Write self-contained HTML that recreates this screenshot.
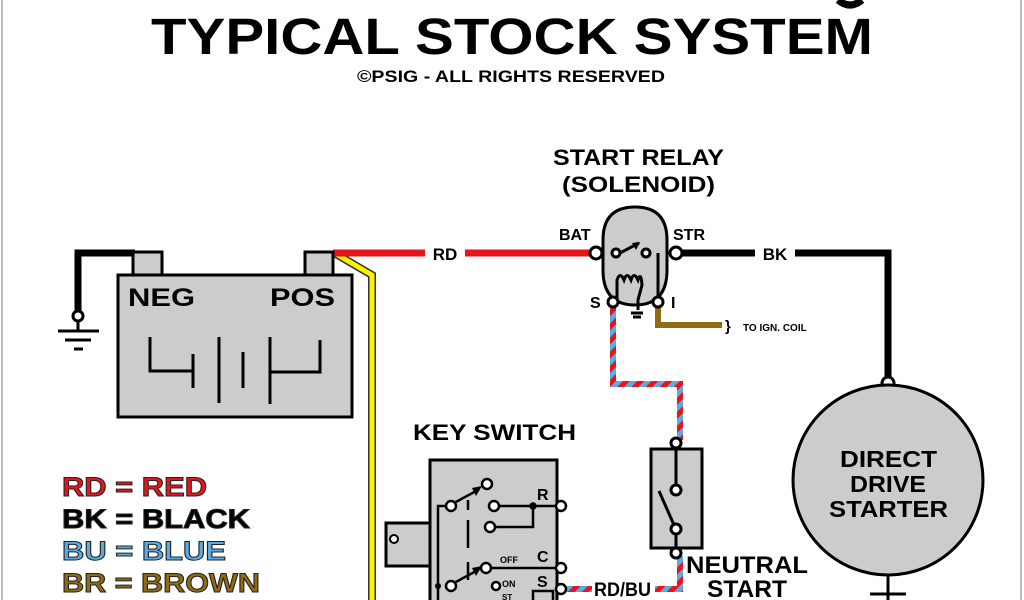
<!DOCTYPE html>
<html><head><meta charset="utf-8"><style>
html,body{margin:0;padding:0;background:#fff;width:1024px;height:600px;overflow:hidden}
svg{display:block}
text{font-family:"Liberation Sans",sans-serif;font-weight:bold}
</style></head><body>
<svg width="1024" height="600" viewBox="0 0 1024 600" xmlns="http://www.w3.org/2000/svg">
<defs>
<pattern id="rb" patternUnits="userSpaceOnUse" width="10" height="10" patternTransform="rotate(45)">
<rect width="5" height="10" fill="#e8141c"/><rect x="5" width="5" height="10" fill="#5aaae6"/>
</pattern>
</defs>
<line x1="2" y1="0" x2="2" y2="600" stroke="#bbb" stroke-width="2"/>
<line x1="1021" y1="0" x2="1021" y2="600" stroke="#bbb" stroke-width="2"/>
<path d="M838 0 Q850 10 862 0" stroke="#000" stroke-width="7" fill="none"/>
<text x="512" y="54" font-size="51" text-anchor="middle" textLength="722" lengthAdjust="spacingAndGlyphs">TYPICAL STOCK SYSTEM</text>
<text x="357" y="82" font-size="17" textLength="308" lengthAdjust="spacingAndGlyphs">©PSIG - ALL RIGHTS RESERVED</text>
<text x="553" y="165" font-size="22" textLength="171" lengthAdjust="spacingAndGlyphs">START RELAY</text>
<text x="562" y="192" font-size="22" textLength="153" lengthAdjust="spacingAndGlyphs">(SOLENOID)</text>

<!-- ground wire -->
<path d="M135 253 H78 V312" stroke="#000" stroke-width="7" fill="none"/>
<circle cx="78" cy="316" r="5" fill="#fff" stroke="#000" stroke-width="3"/>
<line x1="78" y1="321" x2="78" y2="330" stroke="#000" stroke-width="3"/>
<line x1="58" y1="331" x2="99" y2="331" stroke="#000" stroke-width="3"/>
<line x1="65" y1="340" x2="91" y2="340" stroke="#000" stroke-width="3"/>
<line x1="74" y1="349" x2="83" y2="349" stroke="#000" stroke-width="3"/>

<!-- yellow wire -->
<path d="M336 254 L372 275 V600" stroke="#333" stroke-width="8" fill="none"/>
<path d="M336 254 L372 275 V600" stroke="#fff200" stroke-width="5" fill="none"/>
<!-- red wire -->
<line x1="333" y1="253" x2="592" y2="253" stroke="#e8141c" stroke-width="7"/>
<rect x="425" y="243" width="40" height="20" fill="#fff"/>
<text x="445" y="260" font-size="17" text-anchor="middle">RD</text>

<!-- battery -->
<rect x="133" y="252" width="29" height="23" fill="#ccc" stroke="#000" stroke-width="3"/>
<rect x="305" y="252" width="28" height="23" fill="#ccc" stroke="#000" stroke-width="3"/>
<rect x="118" y="275" width="234" height="142" fill="#ccc" stroke="#000" stroke-width="3"/>
<text x="128" y="306" font-size="25" textLength="67" lengthAdjust="spacingAndGlyphs">NEG</text>
<text x="270" y="306" font-size="25" textLength="65" lengthAdjust="spacingAndGlyphs">POS</text>
<g stroke="#000" stroke-width="3" fill="none">
<path d="M150 337 V371 H193"/><line x1="193" y1="354" x2="193" y2="388"/>
<line x1="219" y1="337" x2="219" y2="403"/><line x1="243" y1="352" x2="243" y2="388"/>
<line x1="270" y1="337" x2="270" y2="404"/><path d="M270 372 H320 V340"/>
</g>

<!-- black wire to starter -->
<path d="M676 253 H888 V378" stroke="#000" stroke-width="7" fill="none"/>
<rect x="755" y="243" width="40" height="20" fill="#fff"/>
<text x="775" y="260" font-size="17" text-anchor="middle">BK</text>
<circle cx="888" cy="383" r="6" fill="#fff" stroke="#000" stroke-width="3"/>
<circle cx="888" cy="480" r="95" fill="#ccc" stroke="#000" stroke-width="3"/>
<text x="840" y="467" font-size="23" textLength="97" lengthAdjust="spacingAndGlyphs">DIRECT</text>
<text x="850" y="492" font-size="23" textLength="76" lengthAdjust="spacingAndGlyphs">DRIVE</text>
<text x="829" y="517" font-size="23" textLength="119" lengthAdjust="spacingAndGlyphs">STARTER</text>
<line x1="888" y1="575" x2="888" y2="600" stroke="#000" stroke-width="3"/>
<line x1="870" y1="594" x2="906" y2="594" stroke="#000" stroke-width="3"/>

<!-- brown I wire -->
<path d="M658 305 V325 H722" stroke="#8f6c12" stroke-width="6" fill="none"/>
<text x="725" y="331" font-size="15" font-weight="normal">}</text>
<text x="743" y="331" font-size="10">TO IGN. COIL</text>

<!-- RD/BU wires -->
<path d="M613 305 V384 H680 V440" stroke="url(#rb)" stroke-width="6" fill="none"/>
<path d="M680 556 V589 H655" stroke="url(#rb)" stroke-width="6" fill="none"/>
<path d="M592 589 H562" stroke="url(#rb)" stroke-width="6" fill="none"/>
<text x="594" y="596" font-size="19" textLength="57" lengthAdjust="spacingAndGlyphs">RD/BU</text>

<!-- solenoid -->
<path d="M603 240 Q603 207 635 207 Q667 207 667 240 V270 Q667 305 635 305 Q603 305 603 270 Z" fill="#ccc" stroke="#000" stroke-width="3"/>
<text x="559" y="240" font-size="16">BAT</text>
<text x="673" y="240" font-size="16">STR</text>
<text x="590" y="308" font-size="16">S</text>
<text x="671" y="308" font-size="16">I</text>
<g stroke="#000" stroke-width="3" fill="none">
<line x1="620" y1="253" x2="639" y2="243"/>
<path d="M658 253 V300"/>
<path d="M617 300 V280 Q620 271 624 280 Q627 271 631 280 Q634 271 638 280 Q641 271 642 285 L638 300 V310"/>
<line x1="631" y1="313" x2="643" y2="313"/><line x1="633" y1="317" x2="641" y2="317"/>
</g>
<path d="M640 242 L632 243 L636 250 Z" fill="#000"/>
<g fill="#fff" stroke="#000" stroke-width="3">
<circle cx="596" cy="253" r="6"/><circle cx="676" cy="253" r="6"/>
<circle cx="616" cy="253" r="4"/><circle cx="646" cy="253" r="4"/>
<circle cx="613" cy="302" r="5"/><circle cx="658" cy="302" r="5"/>
</g>

<!-- neutral start switch -->
<rect x="651" y="449" width="51" height="99" fill="#ccc" stroke="#000" stroke-width="3"/>
<g stroke="#000" stroke-width="3" fill="none">
<line x1="676" y1="448" x2="676" y2="486"/><line x1="676" y1="534" x2="676" y2="550"/>
<line x1="659" y1="491" x2="674" y2="525"/>
</g>
<g fill="#fff" stroke="#000" stroke-width="3">
<circle cx="676" cy="443" r="5"/><circle cx="676" cy="490" r="5"/>
<circle cx="676" cy="529" r="5"/><circle cx="676" cy="553" r="5"/>
</g>
<text x="686" y="573" font-size="24" textLength="122" lengthAdjust="spacingAndGlyphs">NEUTRAL</text>
<text x="707" y="597" font-size="24" textLength="80" lengthAdjust="spacingAndGlyphs">START</text>

<!-- key switch -->
<text x="413" y="440" font-size="22" textLength="163" lengthAdjust="spacingAndGlyphs">KEY SWITCH</text>
<rect x="386" y="523" width="44" height="43" fill="#ccc" stroke="#000" stroke-width="3"/>
<rect x="430" y="533" width="12" height="21" fill="#ccc" stroke="#000" stroke-width="3"/>
<circle cx="394" cy="539" r="4" fill="#fff" stroke="#000" stroke-width="2"/>
<rect x="430" y="460" width="127" height="145" fill="#ccc" stroke="#000" stroke-width="3"/>
<g stroke="#000" stroke-width="2.5" fill="none">
<path d="M447 506 H438 V600"/>
<line x1="454" y1="503" x2="478" y2="490"/>
<line x1="454" y1="583" x2="478" y2="570"/>
<line x1="498" y1="506" x2="561" y2="506"/>
<path d="M494 527 H533 V506"/>
<line x1="490" y1="568" x2="560" y2="568"/>
<line x1="468" y1="500" x2="468" y2="510" /><line x1="468" y1="520" x2="468" y2="548"/><line x1="468" y1="562" x2="468" y2="580"/>
<rect x="533" y="591" width="20" height="14"/>
</g>
<path d="M482 486 L472 488 L476 496 Z" fill="#000"/>
<path d="M482 566 L472 568 L476 576 Z" fill="#000"/>
<g fill="#fff" stroke="#000" stroke-width="2.5">
<circle cx="487" cy="484" r="5"/><circle cx="451" cy="506" r="5"/>
<circle cx="494" cy="506" r="5"/><circle cx="533" cy="506" r="2.5" fill="#000"/>
<circle cx="561" cy="506" r="5"/><circle cx="490" cy="527" r="5"/>
<circle cx="486" cy="568" r="5"/><circle cx="561" cy="568" r="5"/>
<circle cx="451" cy="586" r="5"/><circle cx="496" cy="586" r="4"/>
<circle cx="561" cy="589" r="5"/>
</g>
<circle cx="438" cy="586" r="3" fill="#000"/>
<text x="537" y="500" font-size="16">R</text>
<text x="537" y="562" font-size="16">C</text>
<text x="500" y="563" font-size="9">OFF</text>
<text x="502" y="587" font-size="9">ON</text>
<text x="502" y="600" font-size="8">ST</text>
<text x="537" y="587" font-size="16">S</text>

<!-- legend -->
<g font-size="27" stroke-width="1" stroke="#222">
<text x="62" y="496" fill="#e8141c" textLength="145" lengthAdjust="spacingAndGlyphs">RD = RED</text>
<text x="62" y="528" fill="#000" textLength="188" lengthAdjust="spacingAndGlyphs">BK = BLACK</text>
<text x="62" y="560" fill="#5aaae6" textLength="164" lengthAdjust="spacingAndGlyphs">BU = BLUE</text>
<text x="62" y="592" fill="#8f6c12" textLength="198" lengthAdjust="spacingAndGlyphs">BR = BROWN</text>
</g>
</svg>
</body></html>
